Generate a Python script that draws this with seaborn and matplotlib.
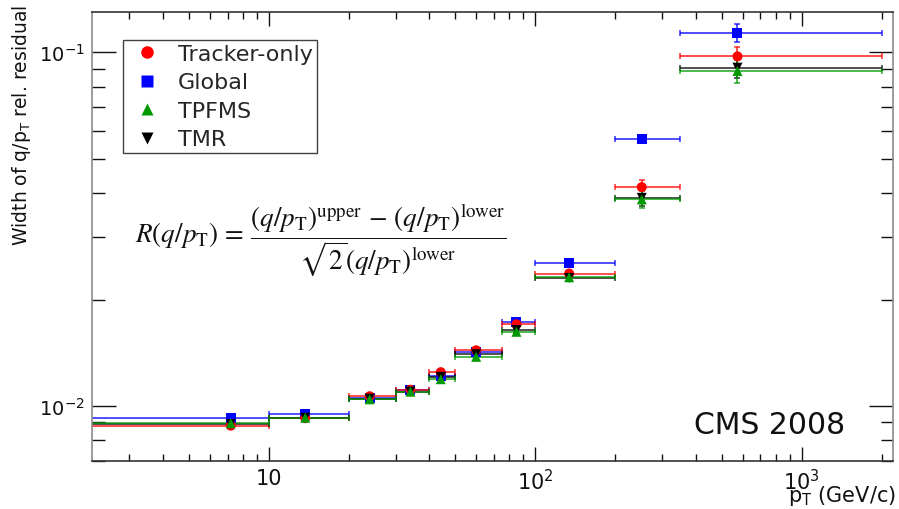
import matplotlib
matplotlib.use("Agg")
import matplotlib.pyplot as plt
from matplotlib.lines import Line2D
from matplotlib.ticker import FixedLocator, FixedFormatter, LogLocator, NullFormatter
import numpy as np
import pandas as pd
import seaborn as sns

# pT bins (GeV/c) and mean pT in each bin
bin_lo = [2, 10, 20, 30, 40, 50, 75, 100, 200, 350]
bin_hi = [10, 20, 30, 40, 50, 75, 100, 200, 350, 2000]
pt_mean = [7.2, 13.7, 23.9, 34, 44.2, 60, 85, 134, 251, 574]

# width of the q/pT relative residual per reconstruction algorithm
tracker_only = [0.00881, 0.00925, 0.01067, 0.01113, 0.01248, 0.01439, 0.01704, 0.02371, 0.0416, 0.0974]
global_fit = [0.00925, 0.00952, 0.01053, 0.01110, 0.01218, 0.01427, 0.01733, 0.02546, 0.0570, 0.1137]
tpfms = [0.00895, 0.00928, 0.01046, 0.01099, 0.01192, 0.01379, 0.01623, 0.02314, 0.0384, 0.0886]
tmr = [0.00890, 0.00928, 0.01050, 0.01100, 0.01210, 0.01402, 0.01642, 0.02303, 0.0388, 0.0905]

# statistical uncertainties on the widths
tracker_err = [0.00005, 0.00005, 0.00008, 0.00008, 0.0001, 0.00015, 0.0002, 0.0003, 0.0020, 0.0060]
global_err = [0.00005, 0.00005, 0.00008, 0.00008, 0.0001, 0.00015, 0.0002, 0.0003, 0.0015, 0.0068]
tpfms_err = [0.00005, 0.00005, 0.00008, 0.00008, 0.0001, 0.00015, 0.0002, 0.0003, 0.0022, 0.0065]
tmr_err = [0.00005, 0.00005, 0.00008, 0.00008, 0.0001, 0.00015, 0.0002, 0.0003, 0.0020, 0.0060]

legend_order = ["Tracker-only", "Global", "TPFMS", "TMR"]
colors = {"Tracker-only": "#ff0000", "Global": "#0000ff", "TPFMS": "#009a00", "TMR": "#000000"}
markers = {"Tracker-only": "o", "Global": "s", "TPFMS": "^", "TMR": "v"}

x_ticks = [10, 100, 1000]
x_tick_labels = ["10", "10$^{\\mathregular{2}}$", "10$^{\\mathregular{3}}$"]
y_ticks = [0.01, 0.1]
y_tick_labels = ["10$^{\\mathregular{-2}}$", "10$^{\\mathregular{-1}}$"]

sns.set_theme(style="ticks")
plt.rcParams["font.family"] = ["DejaVu Sans"]

# drawing order: Global underneath, then Tracker-only, TMR, TPFMS
series = [
    ("Global", global_fit, global_err),
    ("Tracker-only", tracker_only, tracker_err),
    ("TMR", tmr, tmr_err),
    ("TPFMS", tpfms, tpfms_err),
]
rows = []
for name, vals, errs in series:
    for lo, hi, pt, v, e in zip(bin_lo, bin_hi, pt_mean, vals, errs):
        rows.append({"algo": name, "pt": pt, "lo": lo, "hi": hi, "width": v, "err": e})
df = pd.DataFrame(rows)

fig = plt.figure(figsize=(8.99, 5.10), dpi=100)
ax = fig.add_axes([0.1023, 0.0941, 0.8910, 0.8804])
ax.set_xscale("log")
ax.set_yscale("log")

for name, _, _ in series:
    d = df[df["algo"] == name]
    ax.errorbar(
        d["pt"], d["width"],
        xerr=[d["pt"] - d["lo"], d["hi"] - d["pt"]],
        yerr=d["err"],
        fmt="none", ecolor=colors[name], elinewidth=1.3, capsize=2.5,
        capthick=1.2, alpha=0.75, zorder=2,
    )

sns.scatterplot(
    data=df, x="pt", y="width", hue="algo", style="algo",
    hue_order=legend_order, style_order=legend_order,
    palette=colors, markers=markers, s=52, edgecolor="none",
    legend=False, ax=ax, zorder=3,
)

ax.set_xlim(2.17, 2200)
ax.set_ylim(0.0070, 0.130)

ax.xaxis.set_major_locator(FixedLocator(x_ticks))
ax.xaxis.set_major_formatter(FixedFormatter(x_tick_labels))
ax.xaxis.set_minor_locator(LogLocator(base=10, subs=np.arange(2, 10)))
ax.xaxis.set_minor_formatter(NullFormatter())
ax.yaxis.set_major_locator(FixedLocator(y_ticks))
ax.yaxis.set_major_formatter(FixedFormatter(y_tick_labels))
ax.yaxis.set_minor_locator(LogLocator(base=10, subs=np.arange(2, 10)))
ax.yaxis.set_minor_formatter(NullFormatter())

ax.tick_params(which="both", direction="in", top=True, right=True,
               colors="#111111", width=1.0, labelcolor="#111111")
ax.tick_params(axis="x", which="major", length=10, pad=5, labelsize=15)
ax.tick_params(axis="x", which="minor", length=5)
ax.tick_params(axis="y", which="major", length=17, pad=5, labelsize=14)
ax.tick_params(axis="y", which="minor", length=9)

for side in ["left", "right"]:
    ax.spines[side].set_color("#8a8a8a")
    ax.spines[side].set_linewidth(1.2)
for side in ["top", "bottom"]:
    ax.spines[side].set_color("#333333")
    ax.spines[side].set_linewidth(1.2)

ax.set_xlabel("")
ax.set_ylabel("")
fig.text(0.997, 0.003, "p$_\\mathregular{T}$ (GeV/c)", ha="right", va="bottom",
         fontsize=15, color="#111111")
fig.text(0.024, 0.990, "Width of q/p$_\\mathregular{T}$ rel. residual", rotation=90,
         ha="center", va="top", fontsize=13.5, color="#111111")

handles = [
    Line2D([], [], linestyle="none", marker=markers[n], color=colors[n],
           markeredgecolor="none", markersize=9, label=n)
    for n in legend_order
]
leg = ax.legend(handles=handles, loc="upper left", bbox_to_anchor=(0.0387, 0.9376),
                borderaxespad=0, frameon=True, fancybox=False, fontsize=16,
                labelspacing=0.38, handletextpad=0.48, handlelength=1.8,
                borderpad=0.18)
leg.get_frame().set_edgecolor("#111111")
leg.get_frame().set_linewidth(1.0)

ax.text(0.0537, 0.494,
        r"$R(q/p_{\mathrm{T}})\,=\,\dfrac{(q/p_{\mathrm{T}})^{\mathrm{upper}}\,-\,(q/p_{\mathrm{T}})^{\mathrm{lower}}}{\sqrt{2}(q/p_{\mathrm{T}})^{\mathrm{lower}}}$",
        transform=ax.transAxes, ha="left", va="center", fontsize=19.5,
        math_fontfamily="stix", color="#111111")

ax.text(0.7516, 0.082, "CMS 2008", transform=ax.transAxes, ha="left", va="center",
        fontsize=21.5, color="#111111")

fig.savefig("out.png", dpi=100)
